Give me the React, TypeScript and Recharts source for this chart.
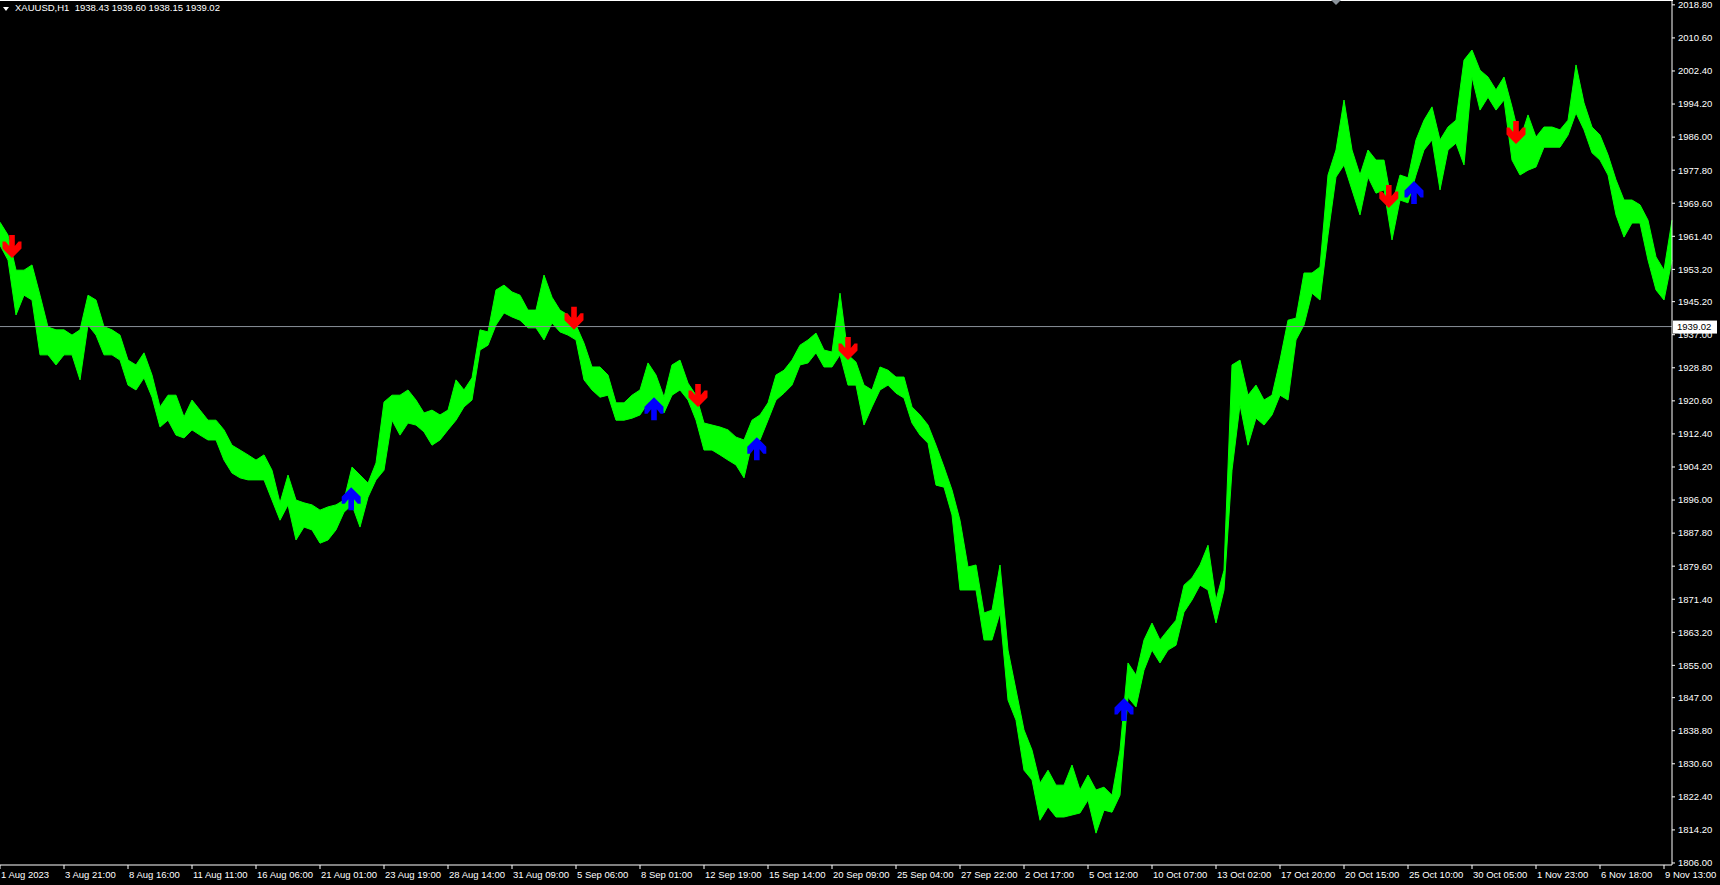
import { Area, ComposedChart, ReferenceLine, Scatter, XAxis, YAxis } from "recharts";

// XAUUSD H1, read every 8 bars (one index = 8 px in the terminal window)
const highs = [
  1964.9, 1961.7, 1953.0, 1953.0, 1954.3, 1946.8, 1938.9, 1938.2, 1938.2, 1936.9,
  1938.2, 1946.8, 1945.6, 1939.0, 1938.2, 1936.9, 1930.7, 1929.5, 1932.5, 1927.0,
  1919.1, 1922.0, 1922.0, 1916.6, 1920.8, 1918.3, 1915.8, 1915.8, 1913.4, 1909.6,
  1908.4, 1907.2, 1905.9, 1907.2, 1903.4, 1895.3, 1902.2, 1896.0, 1895.3, 1894.8,
  1893.5, 1894.3, 1894.8, 1896.0, 1904.2, 1902.2, 1900.2, 1905.2, 1920.3, 1922.0,
  1922.0, 1923.3, 1920.8, 1917.6, 1918.3, 1917.1, 1918.3, 1925.8, 1923.3, 1926.3,
  1938.2, 1937.7, 1948.1, 1949.3, 1947.6, 1946.8, 1943.1, 1943.1, 1951.8, 1946.3,
  1943.1, 1941.9, 1939.4, 1934.9, 1929.0, 1929.0, 1927.0, 1920.1, 1920.1, 1922.0,
  1923.3, 1930.0, 1927.0, 1921.5, 1929.5, 1930.7, 1925.0, 1922.0, 1915.1, 1914.6,
  1914.1, 1913.4, 1911.6, 1910.9, 1915.8, 1917.1, 1920.1, 1927.0, 1928.2, 1930.7,
  1934.4, 1935.7, 1937.4, 1933.2, 1932.7, 1947.3, 1932.0, 1930.2, 1924.5, 1923.3,
  1929.0, 1928.2, 1926.5, 1926.5, 1919.1, 1917.1, 1914.6, 1909.6, 1904.2, 1898.5,
  1891.0, 1879.4, 1879.9, 1868.0, 1868.7, 1879.9, 1858.8, 1848.9, 1839.0, 1834.0,
  1825.8, 1829.0, 1825.3, 1825.3, 1830.3, 1824.1, 1827.8, 1824.1, 1824.8, 1822.8,
  1834.0, 1855.6, 1852.6, 1861.3, 1865.5, 1861.3, 1863.8, 1866.2, 1874.9, 1876.7,
  1879.9, 1884.8, 1871.2, 1878.6, 1929.5, 1930.7, 1922.0, 1924.5, 1920.8, 1922.0,
  1930.7, 1940.6, 1941.1, 1952.3, 1952.3, 1953.8, 1976.6, 1982.8, 1995.2, 1982.8,
  1976.6, 1982.8, 1980.3, 1980.3, 1969.2, 1976.6, 1975.9, 1985.3, 1990.2, 1993.5,
  1985.3, 1988.5, 1990.2, 2005.1, 2007.6, 2002.6, 2000.9, 1997.7, 2000.9, 1993.5,
  1985.3, 1991.5, 1986.0, 1988.5, 1988.5, 1987.8, 1990.2, 2003.9, 1994.5, 1988.5,
  1986.5, 1981.6, 1975.4, 1970.4, 1970.4, 1969.2, 1965.4, 1956.3, 1953.0, 1965.4,
];

const lows = [
  1959.2, 1955.5, 1941.9, 1946.8, 1945.6, 1932.0, 1932.0, 1929.5, 1932.0, 1932.0,
  1925.8, 1939.4, 1936.9, 1932.0, 1932.0, 1930.7, 1924.5, 1923.3, 1926.3, 1921.5,
  1914.1, 1915.8, 1912.1, 1911.4, 1913.4, 1912.1, 1910.9, 1910.9, 1905.9, 1902.7,
  1901.5, 1901.0, 1901.0, 1901.0, 1896.0, 1891.0, 1894.8, 1886.1, 1889.3, 1888.6,
  1885.3, 1886.1, 1888.6, 1893.0, 1894.8, 1889.3, 1896.7, 1901.0, 1903.4, 1915.8,
  1912.1, 1915.1, 1914.6, 1912.9, 1909.6, 1910.9, 1913.4, 1915.8, 1919.1, 1920.8,
  1933.2, 1934.4, 1939.4, 1942.4, 1941.4, 1940.6, 1938.7, 1938.7, 1935.7, 1939.9,
  1937.7, 1936.9, 1935.7, 1925.8, 1923.3, 1921.5, 1922.0, 1915.8, 1915.8, 1916.3,
  1917.1, 1920.1, 1920.8, 1917.6, 1922.0, 1923.3, 1920.8, 1915.8, 1908.4, 1908.4,
  1907.2, 1905.9, 1904.7, 1901.5, 1910.1, 1910.9, 1915.8, 1920.8, 1922.5, 1924.5,
  1929.5, 1930.0, 1932.5, 1929.0, 1929.0, 1932.0, 1924.5, 1924.5, 1914.6, 1919.1,
  1923.3, 1924.5, 1922.5, 1921.3, 1915.1, 1912.1, 1910.1, 1899.7, 1899.2, 1892.3,
  1873.7, 1873.7, 1873.7, 1861.3, 1861.3, 1868.0, 1846.4, 1841.4, 1829.0, 1826.6,
  1816.6, 1819.9, 1817.4, 1817.4, 1817.9, 1818.4, 1821.6, 1813.4, 1819.1, 1818.6,
  1822.8, 1847.1, 1844.7, 1853.8, 1858.8, 1855.6, 1858.8, 1860.0, 1868.2, 1871.2,
  1874.9, 1873.7, 1865.5, 1873.7, 1903.4, 1919.6, 1909.6, 1916.3, 1914.6, 1917.1,
  1922.0, 1920.8, 1935.7, 1939.4, 1947.3, 1945.6, 1961.7, 1976.1, 1979.1, 1972.9,
  1966.7, 1976.1, 1972.1, 1972.9, 1960.5, 1970.4, 1969.7, 1976.6, 1982.8, 1985.3,
  1972.9, 1982.8, 1984.5, 1979.1, 2000.9, 1992.7, 1995.9, 1992.7, 1995.2, 1980.3,
  1976.6, 1977.8, 1978.6, 1983.5, 1983.5, 1983.5, 1986.5, 1992.0, 1987.8, 1982.1,
  1980.3, 1976.6, 1966.7, 1961.2, 1964.7, 1964.7, 1955.5, 1948.1, 1945.6, 1955.5,
];

const dateLabels = [
  "1 Aug 2023", "3 Aug 21:00", "8 Aug 16:00", "11 Aug 11:00", "16 Aug 06:00",
  "21 Aug 01:00", "23 Aug 19:00", "28 Aug 14:00", "31 Aug 09:00", "5 Sep 06:00",
  "8 Sep 01:00", "12 Sep 19:00", "15 Sep 14:00", "20 Sep 09:00", "25 Sep 04:00",
  "27 Sep 22:00", "2 Oct 17:00", "5 Oct 12:00", "10 Oct 07:00", "13 Oct 02:00",
  "17 Oct 20:00", "20 Oct 15:00", "25 Oct 10:00", "30 Oct 05:00", "1 Nov 23:00",
  "6 Nov 18:00", "9 Nov 13:00",
];

const priceTicks = [
  2018.8, 2010.6, 2002.4, 1994.2, 1986.0, 1977.8, 1969.6, 1961.4, 1953.2, 1945.2,
  1937.0, 1928.8, 1920.6, 1912.4, 1904.2, 1896.0, 1887.8, 1879.6, 1871.4, 1863.2,
  1855.0, 1847.0, 1838.8, 1830.6, 1822.4, 1814.2, 1806.0,
];

// signal arrows: [bar index, price at arrow tip]
const sellSignals = [
  [1.5, 1956.0], [71.75, 1938.2], [87.25, 1919.1], [106, 1930.7], [173.6, 1968.4], [189.5, 1984.3],
];
const buySignals = [
  [43.9, 1899.2], [81.75, 1921.5], [94.6, 1911.6], [140.5, 1846.9], [176.75, 1975.1],
];

const symbol = "XAUUSD,H1";
const lastBar = "1938.43 1939.60 1938.15 1939.02";
const lastPrice = 1939.02;

const bars = highs.map((h, i) => ({ idx: i, range: [lows[i], h] }));
const sells = sellSignals.map(([idx, price]) => ({ idx, price }));
const buys = buySignals.map(([idx, price]) => ({ idx, price }));
const xTicks = dateLabels.map((_, i) => i * 8);

const FONT = "'Liberation Sans', Arial, sans-serif";

// thick wingdings-like arrow, tip at (cx, cy)
function Arrow({ cx, cy, fill, up }: { cx: number; cy: number; fill: string; up?: boolean }) {
  const s = up ? -1 : 1;
  const shape = [
    [-2.8, -23], [2.8, -23], [2.8, -12], [6.5, -16.5], [9.5, -16.5], [9.5, -9.5],
    [0, 0], [-9.5, -9.5], [-9.5, -16.5], [-6.5, -16.5], [-2.8, -12],
  ];
  const pts = shape.map(([x, y]) => `${cx + x},${cy + y * s}`).join(" ");
  return <polygon points={pts} fill={fill} />;
}

function DateTick({ x, y, payload }: any) {
  return (
    <text x={x + 1} y={y} dy="0.78em" fill="#fff" fontSize={9.5} fontFamily={FONT} textAnchor="start">
      {dateLabels[Math.round(payload.value / 8)]}
    </text>
  );
}

function PriceTag({ viewBox }: any) {
  const left = viewBox.x + viewBox.width + 1;
  return (
    <g>
      <rect x={left} y={viewBox.y - 6} width={44} height={13} fill="#fff" />
      <text x={left + 4} y={viewBox.y + 3.5} fill="#000" fontSize={9.5} fontFamily={FONT}>
        {lastPrice.toFixed(2)}
      </text>
    </g>
  );
}

export default function App() {
  return (
    <div
      style={{
        position: "fixed",
        left: 0,
        top: 0,
        width: 1720,
        height: 885,
        background: "#000",
        fontFamily: FONT,
        overflow: "hidden",
      }}
    >
      <div style={{ position: "absolute", left: 0, top: 0, width: 1673, height: 1, background: "#fff" }} />
      <div
        style={{
          position: "absolute",
          left: 3,
          top: 7,
          width: 0,
          height: 0,
          borderLeft: "3.5px solid transparent",
          borderRight: "3.5px solid transparent",
          borderTop: "4px solid #fff",
        }}
      />
      <div
        style={{
          position: "absolute",
          left: 15,
          top: 2,
          color: "#fff",
          fontSize: 9.5,
          lineHeight: "12px",
          whiteSpace: "pre",
          zIndex: 2,
        }}
      >
        {symbol + "  " + lastBar}
      </div>
      <div
        style={{
          position: "absolute",
          left: 1331,
          top: 0,
          width: 0,
          height: 0,
          borderLeft: "5px solid transparent",
          borderRight: "5px solid transparent",
          borderTop: "5px solid #8a929a",
          zIndex: 2,
        }}
      />
      <ComposedChart width={1720} height={885} data={bars} margin={{ top: 0, right: 0, bottom: 0, left: 0 }}>
        <XAxis
          dataKey="idx"
          type="number"
          domain={[0, 209]}
          ticks={xTicks}
          interval={0}
          height={20}
          tickSize={4}
          tickMargin={2}
          tick={<DateTick />}
          tickLine={{ stroke: "#fff" }}
          axisLine={{ stroke: "#fff" }}
        />
        <YAxis
          orientation="right"
          type="number"
          domain={[1805.5, 2020]}
          ticks={priceTicks}
          interval={0}
          width={48}
          tickSize={3}
          tickMargin={3}
          tickFormatter={(v: number) => v.toFixed(2)}
          tick={{ fill: "#fff", fontSize: 9.5, fontFamily: FONT }}
          tickLine={{ stroke: "#fff" }}
          axisLine={{ stroke: "#fff" }}
        />
        <Area
          type="linear"
          dataKey="range"
          stroke="#00ff00"
          strokeWidth={1}
          fill="#00ff00"
          fillOpacity={1}
          dot={false}
          activeDot={false}
          isAnimationActive={false}
        />
        <ReferenceLine y={lastPrice} stroke="#8a929a" strokeWidth={1} label={(p: any) => <PriceTag {...p} />} />
        <Scatter
          data={sells}
          dataKey="price"
          isAnimationActive={false}
          shape={(p: any) => <Arrow cx={p.cx} cy={p.cy} fill="#ff0000" />}
        />
        <Scatter
          data={buys}
          dataKey="price"
          isAnimationActive={false}
          shape={(p: any) => <Arrow cx={p.cx} cy={p.cy} fill="#0000ff" up />}
        />
      </ComposedChart>
    </div>
  );
}
